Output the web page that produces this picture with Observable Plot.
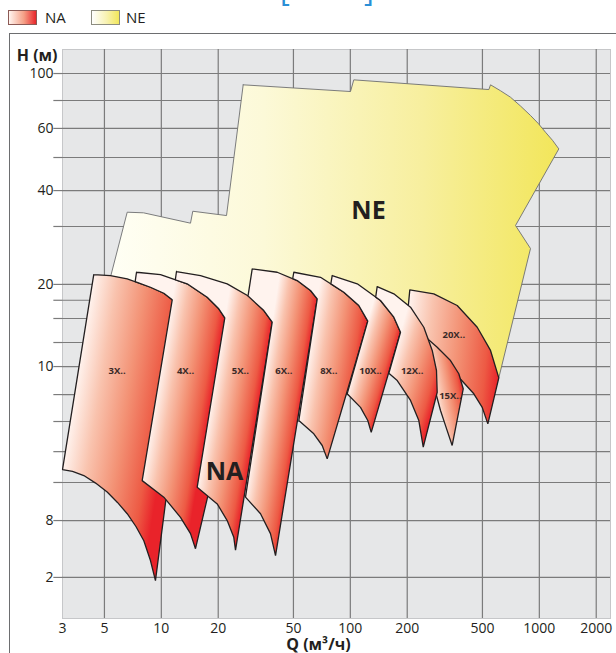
<!DOCTYPE html>
<html>
<head>
<meta charset="utf-8">
<script src="https://cdn.jsdelivr.net/npm/d3@7"></script>
<script src="https://cdn.jsdelivr.net/npm/@observablehq/plot@0.6"></script>
<style>
  html, body { margin: 0; padding: 0; background: #fff; }
  #page { position: relative; width: 616px; height: 653px; overflow: hidden; font-family: "Open Sans", "Noto Sans", sans-serif; color: #231f20; }
  .sw { position: absolute; top: 10px; width: 29px; height: 15px; box-sizing: border-box; }
  .lg { position: absolute; top: 7px; font-size: 15px; line-height: 20px; }
  #frame { position: absolute; left: 9px; top: 33px; width: 800px; height: 800px; border-left: 1.5px solid #6d6e70; border-top: 1.5px solid #6d6e70; }
  #chart { position: absolute; left: 0; top: 33px; }
  .br { position: absolute; top: -25px; font-size: 30px; line-height: 30px; color: #2b8fd6; }
</style>
</head>
<body>
<div id="page">
  <span class="br" style="left:280px">[</span><span class="br" style="left:364px">]</span>
  <div class="sw" style="left:8px; background: linear-gradient(to right,#fff4ef,#f5a086 55%,#e8262b); border:1px solid #8c5a55;"></div>
  <div class="lg" style="left:45px">NA</div>
  <div class="sw" style="left:91px; background: linear-gradient(to right,#ffffff,#f8f2b0 55%,#f2e75a); border:1px solid #8d8d80;"></div>
  <div class="lg" style="left:126px">NE</div>
  <div id="frame"></div>
  <div id="chart"></div>
</div>
<script>
// ---- axes ----
const xTicks = [3, 5, 10, 20, 50, 100, 200, 500, 1000, 2000];
const xTickLabels = ["3", "5", "10", "20", "50", "100", "200", "500", "1000", "2000"];
const xGrid = [5, 10, 20, 50, 100, 200, 500, 1000, 2000];
const yGrid = [100, 81.1, 65.3, 52.1, 40.3, 30.5, 19.45, 17.2, 14.93, 12.39, 10.28, 8.27, 6.71, 5.31, 4.18, 3.11, 2.0];
const yTickValues = [100, 65.3, 40.3, 19.45, 10.28, 3.11, 2.0];
const yTickLabels = ["100", "60", "40", "20", "10", "8", "2"];

// ---- NE range outline [Q m3/h, H m] ----
const ne = [[27.11,91.6],[100.2,86.96],[104.3,95.2],[540.7,88.3],[551.8,91.6],[623.2,87.49],[703.8,83.2],[795.2,77.7],[898.1,72.2],[990.0,67.72],[1078,63.4],[1174,59.55],[1268,55.7],[748.3,30.73],[898.1,25.7],[610.4,9.42],[432.3,9.22],[300,10.77],[195.9,12.58],[113.2,13.6],[69.55,14.7],[42.71,13.6],[23.23,13.6],[12.63,14.7],[6.08,15.88],[5.0,17.17],[6.6,34.07],[8.05,33.91],[14.27,31.29],[14.67,34.33],[22.13,33.2]];

// ---- NA range outlines ----
const na3X = [[4.39,21.0],[5.38,20.84],[6.6,20.31],[8.76,19.03],[10.31,18.16],[11.42,17.26],[12.94,13.6],[10.61,3.72],[9.31,1.95],[8.76,2.28],[8.08,2.66],[7.34,2.97],[6.6,3.28],[5.86,3.58],[5.17,3.88],[4.49,4.16],[3.89,4.41],[3.39,4.56],[3.0,4.62]];
const na4X = [[7.39,21.38],[9.9,21.0],[13.7,19.54],[17.49,17.61],[20.14,16.1],[21.67,15.01],[19.35,4.96],[17.49,3.69],[15.16,2.5],[14.27,2.81],[12.63,3.19],[10.31,3.73],[7.92,4.24],[11.42,17.26],[10.31,18.16],[8.76,19.03],[7.27,19.88]];
const na5X = [[12.03,21.5],[16.12,20.84],[22.31,19.54],[29.64,17.61],[34.86,15.88],[38.61,14.51],[24.69,2.47],[24.18,2.73],[22.31,3.11],[19.76,3.54],[15.48,4.03],[21.67,15.01],[20.14,16.1],[17.49,17.61],[13.7,19.54],[11.86,20.17]];
const na6X = [[30.26,21.96],[41.03,21.38],[52.36,20.04],[61.55,18.55],[66.82,17.39],[40.2,2.37],[37.8,2.81],[33.49,3.28],[27.89,3.73],[38.61,14.51],[34.86,15.88],[28.75,17.77]];
const na8X = [[50.23,21.38],[69.55,20.56],[92.36,18.3],[110.9,16.51],[123.7,14.62],[75.45,5.02],[71.0,5.57],[64.09,6.1],[53.39,6.76],[66.82,17.39],[61.55,18.55],[52.36,20.04],[49.56,20.33]];
const na10X = [[80.18,20.84],[108.8,19.54],[144.4,17.17],[169.9,15.08],[184.3,13.42],[129.0,6.17],[123.7,6.76],[113.2,7.49],[96.24,8.32],[123.7,14.62],[110.9,16.51],[92.36,18.3],[78.85,19.54]];
const na20X = [[206.4,18.65],[276.5,18.08],[367.7,16.51],[469.3,13.95],[551.8,11.65],[610.4,9.42],[534.1,6.59],[498.7,7.49],[450.2,8.32],[367.7,9.59],[318.9,10.61],[235.2,12.1],[195.9,13.08]];
const na15X = [[244.8,13.08],[288.2,11.95],[338.8,10.77],[375.0,9.72],[395.7,8.65],[345.8,5.57],[318.9,6.5],[300,7.31],[285.7,8.21],[272.2,8.87]];
const na12X = [[138.7,19.13],[169.9,18.08],[208.2,16.3],[244.8,13.95],[271.2,11.65],[285.7,9.97],[288.2,8.42],[243.1,5.5],[230.4,6.76],[208.2,7.9],[177.1,9.22],[159.9,9.76],[184.3,13.42],[169.9,15.08],[144.4,17.17],[136.2,17.62]];

// drawing order (back to front)
const naNames = ["3X..", "4X..", "5X..", "6X..", "8X..", "10X..", "20X..", "15X..", "12X.."];
const naShapes = [na3X, na4X, na5X, na6X, na8X, na10X, na20X, na15X, na12X];

// ---- labels ----
const labelNames = ["3X..", "4X..", "5X..", "6X..", "8X..", "10X..", "12X..", "15X..", "20X.."];
const labelQ = [5.84, 13.43, 26.2, 44.49, 76.91, 127.9, 212.5, 338.8, 352.7];
const labelH = [9.97, 9.97, 9.97, 9.97, 9.97, 9.97, 9.97, 8.21, 13.18];
const bigLabels = ["NE", "NA"];
const bigQ = [124.8, 21.6];
const bigH = [34.5, 4.55];

// ---- build tables ----
const closeRing = (pts, name) => [...pts, pts[0]].map(([q, h]) => ({name, q, h}));
const neRows = closeRing(ne, "NE");
const naRows = naShapes.flatMap((pts, i) => closeRing(pts, naNames[i]));
const labelRows = labelNames.map((t, i) => ({t, q: labelQ[i], h: labelH[i]}));
const bigRows = bigLabels.map((t, i) => ({t, q: bigQ[i], h: bigH[i]}));
const xTickRows = xTicks.map((v, i) => ({v, t: xTickLabels[i]}));
const yTickRows = yTickValues.map((v, i) => ({v, t: yTickLabels[i]}));

const svg = Plot.plot({
  width: 616,
  height: 620,
  marginLeft: 62,
  marginRight: 6,
  marginTop: 16,
  marginBottom: 35,
  style: {fontFamily: "'Open Sans', 'Noto Sans', sans-serif", fontSize: "14px", color: "#231f20", background: "transparent"},
  x: {type: "log", domain: [3, 2380], axis: null},
  y: {type: "log", domain: [1.454, 120.5], axis: null},
  marks: [
    Plot.frame({fill: "#e6e7e8", stroke: "#c6c7c9"}),
    Plot.ruleX(xGrid, {stroke: "#7b7b7b", strokeWidth: 1.2}),
    Plot.ruleY(yGrid, {stroke: "#7b7b7b", strokeWidth: 1.2}),
    Plot.ruleY(yGrid, {y: d => d, x1: 2.7, x2: 3, stroke: "#7b7b7b", strokeWidth: 1.2, clip: false}),
    Plot.text(yTickRows, {y: "v", text: "t", frameAnchor: "left", dx: -9, textAnchor: "end", fontSize: 14, fill: "#231f20"}),
    Plot.text(xTickRows, {x: "v", text: "t", frameAnchor: "bottom", dy: 14, fontSize: 14, fill: "#231f20"}),
    Plot.line(neRows, {x: "q", y: "h", z: "name", fill: "url(#gNE)", stroke: "#6d6e70", strokeWidth: 0.9, curve: "linear"}),
    Plot.line(naRows, {x: "q", y: "h", z: "name", fill: "#f39275", stroke: "#231f20", strokeWidth: 1.3, strokeLinejoin: "miter", curve: "linear"}),
    Plot.text(labelRows, {x: "q", y: "h", text: "t", fontSize: 9.5, fontWeight: "bold", fill: "#3a2a28"}),
    Plot.text(bigRows, {x: "q", y: "h", text: "t", fontSize: 25, fontWeight: "bold", fill: "#231f20"}),
    Plot.text(["H (м)"], {frameAnchor: "top-left", dx: -5, dy: 0, textAnchor: "end", fontSize: 16, fontWeight: "bold", fill: "#231f20"}),
    Plot.text(["Q (м³/ч)"], {frameAnchor: "bottom", dx: -18, dy: 31, fontSize: 16, fontWeight: "bold", fill: "#231f20"})
  ]
});

// ---- gradients ----
const defs = d3.select(svg).insert("defs", ":first-child");
const naStops = [[0, "#fff3ee"], [0.25, "#f9c3ae"], [0.55, "#f39275"], [0.85, "#ed5a44"], [1, "#e9232a"]];
const gNE = defs.append("linearGradient").attr("id", "gNE").attr("x1", 0).attr("x2", 1).attr("y1", 0).attr("y2", 0);
[[0, "#fffff6"], [0.35, "#fcf9d8"], [0.7, "#f7ef9e"], [1, "#f2e65a"]]
  .forEach(([o, c]) => gNE.append("stop").attr("offset", o).attr("stop-color", c));

// each NA shape: gradient runs across the shape, perpendicular to its (slanted) left edge
const xs = svg.scale("x"), ys = svg.scale("y");
const lineGroups = svg.querySelectorAll('g[aria-label="line"]');
const naPaths = lineGroups[lineGroups.length - 1].querySelectorAll("path");
naShapes.forEach((pts, k) => {
  const p = pts.map(([q, h]) => [xs.apply(q), ys.apply(h)]);
  let best = 0, bi = 0;
  p.forEach((a, i) => {
    const b = p[(i + 1) % p.length];
    const up = a[1] - b[1];
    if (up > best) { best = up; bi = i; }
  });
  const A = p[bi], B = p[(bi + 1) % p.length];
  const ex = B[0] - A[0], ey = B[1] - A[1], len = Math.hypot(ex, ey);
  const nx = -ey / len, ny = ex / len;
  const R = p.reduce((m, c) => (c[0] > m[0] ? c : m), p[0]);
  const d = (R[0] - A[0]) * nx + (R[1] - A[1]) * ny;
  const g = defs.append("linearGradient").attr("id", "gNA" + k)
    .attr("gradientUnits", "userSpaceOnUse")
    .attr("x1", A[0]).attr("y1", A[1])
    .attr("x2", A[0] + nx * d).attr("y2", A[1] + ny * d);
  naStops.forEach(([o, c]) => g.append("stop").attr("offset", o).attr("stop-color", c));
  if (naPaths[k]) naPaths[k].setAttribute("fill", `url(#gNA${k})`);
});

document.getElementById("chart").appendChild(svg);
</script>
</body>
</html>
